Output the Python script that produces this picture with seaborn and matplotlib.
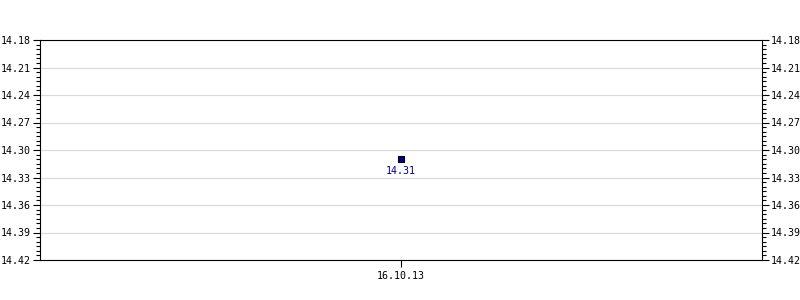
import matplotlib
matplotlib.use("Agg")
import matplotlib.pyplot as plt
import seaborn as sns
import pandas as pd
from matplotlib.ticker import MultipleLocator

dates = ["16.10.13"]
values = [14.31]
y_ticks = [14.18, 14.21, 14.24, 14.27, 14.30, 14.33, 14.36, 14.39, 14.42]

sns.set_style("white")
plt.rcParams['font.family'] = ['DejaVu Sans Mono']
plt.rcParams['font.size'] = 7.2
plt.rcParams['text.color'] = 'black'
plt.rcParams['xtick.color'] = 'black'
plt.rcParams['ytick.color'] = 'black'

df = pd.DataFrame({"x": range(len(dates)), "v": values})

fig = plt.figure(figsize=(8, 3), dpi=100)
ax = fig.add_axes([40/800, 40/300, 722/800, 220/300])

sns.scatterplot(data=df, x="x", y="v", ax=ax, marker="s", s=16,
                color="#000080", edgecolor="black", linewidth=0.8, zorder=3)
for xi, v in zip(df["x"], df["v"]):
    ax.annotate(f"{v:.2f}", (xi, v), xytext=(0, -5), textcoords="offset points",
                ha="center", va="top", color="#000080", fontsize=7.2)

ax.set_xlim(-1, 1)
ax.set_ylim(14.42, 14.18)
ax.set_xticks(list(df["x"]))
ax.set_xticklabels(dates)
ax.set_yticks(y_ticks)
ax.set_yticklabels([f"{t:.2f}" for t in y_ticks])
ax.yaxis.set_minor_locator(MultipleLocator(0.005))
ax.tick_params(axis="y", which="both", left=True, right=True, labelleft=True, labelright=True,
               direction="out", color="black", width=0.8, labelcolor="black")
ax.tick_params(axis="y", which="major", length=5, pad=1.5)
ax.tick_params(axis="y", which="minor", length=3)
ax.tick_params(axis="x", which="major", bottom=True, length=5, direction="out", width=0.8, pad=3,
               labelcolor="black")
ax.grid(axis="y", color="#d9d9d9", linewidth=0.8)
ax.set_axisbelow(True)
ax.set_xlabel("")
ax.set_ylabel("")
for s in ["left", "right", "bottom", "top"]:
    ax.spines[s].set_visible(True)
    ax.spines[s].set_color("black")
    ax.spines[s].set_linewidth(0.8)

fig.savefig("out.png", dpi=100)
